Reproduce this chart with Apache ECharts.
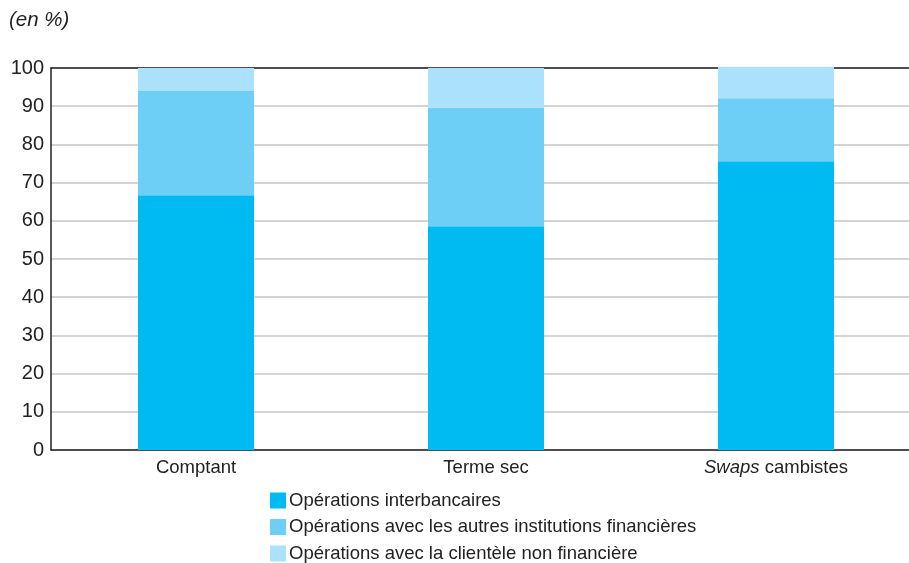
<!DOCTYPE html>
<html><head><meta charset="utf-8">
<script src="https://cdn.jsdelivr.net/npm/echarts@6/dist/echarts.min.js"></script>
<style>html,body{margin:0;padding:0;background:#fff;overflow:hidden}#c{width:921px;height:563px}</style>
</head><body><div id="c"></div>
<script>
const categories = ['Comptant', 'Terme sec', 'Swaps cambistes'];
const seriesNames = ['Opérations interbancaires', 'Opérations avec les autres institutions financières', 'Opérations avec la clientèle non financière'];
const interbancaires = [66.7, 58.6, 75.6];
const autresInstitutions = [27.3, 31.0, 16.5];
const clienteleNonFin = [6.0, 10.4, 8.2];
const colors = ['#00BAF2', '#6DCFF6', '#ABE1FA'];

const chart = echarts.init(document.getElementById('c'));
const font = 'Liberation Sans, Arial, Helvetica, sans-serif';
const mk = (name, data, i) => ({
  name, type: 'bar', stack: 't', data, barWidth: 116, clip: false,
  itemStyle: { color: colors[i] }, emphasis: { disabled: true }
});
chart.setOption({
  animation: false,
  textStyle: { fontFamily: font },
  graphic: [{ type: 'text', left: 9, top: 10, style: { text: '(en %)', font: 'italic 20.5px ' + font, fill: '#222' } }],
  grid: { left: 51, top: 68, right: 0, bottom: 113, containLabel: false },
  legend: {
    orient: 'vertical', left: 270, top: 491, height: 100, padding: 0,
    itemWidth: 16, itemHeight: 16, itemGap: 7.5,
    icon: 'rect', selectedMode: false,
    textStyle: { fontSize: 18.5, color: '#222', fontFamily: font, padding: [0, 0, 0, -2] },
    data: seriesNames
  },
  xAxis: [{
    type: 'category', data: categories,
    axisLine: { lineStyle: { color: '#222', width: 1.5 } },
    axisTick: { show: false },
    axisLabel: {
      fontSize: 18.5, color: '#222', margin: 8,
      formatter: v => v === 'Swaps cambistes' ? '{i|Swaps} cambistes' : v,
      rich: { i: { fontStyle: 'italic', fontSize: 18.5, color: '#222' } }
    }
  }, {
    type: 'category', position: 'top', data: categories,
    axisLine: { lineStyle: { color: '#222', width: 1.5 } },
    axisTick: { show: false }, axisLabel: { show: false }
  }],
  yAxis: {
    type: 'value', min: 0, max: 100, interval: 10,
    axisLine: { show: true, lineStyle: { color: '#222', width: 1.5 } },
    axisTick: { show: false },
    axisLabel: { fontSize: 20, color: '#222', margin: 7 },
    splitLine: { lineStyle: { color: '#c4c6c8', width: 1.5 } }
  },
  series: [mk(seriesNames[0], interbancaires, 0), mk(seriesNames[1], autresInstitutions, 1), mk(seriesNames[2], clienteleNonFin, 2)]
});
</script></body></html>
